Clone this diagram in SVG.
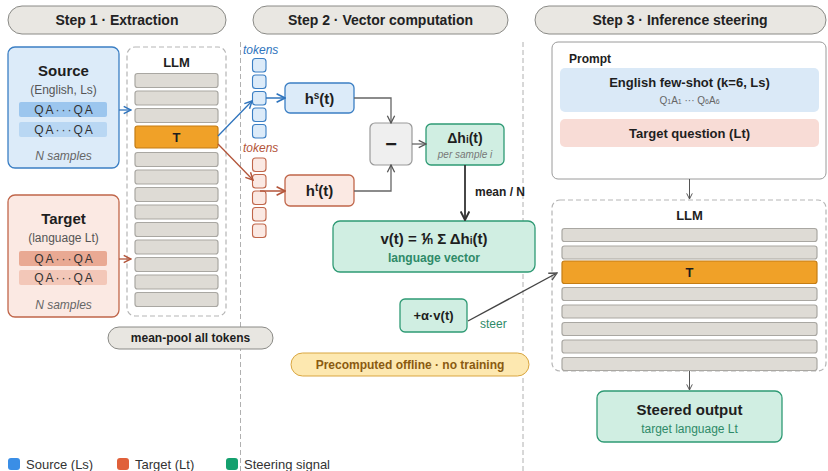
<svg xmlns="http://www.w3.org/2000/svg" width="828" height="471" viewBox="0 0 828 471">
  <defs>
    <style>
      text { font-family: "Liberation Sans", Arial, sans-serif; }
      .hdr { fill: #e9e7e2; stroke: #8a8a86; stroke-width: 1; }
      .hdrt { font-size: 14px; font-weight: bold; fill: #222; text-anchor: middle; }
      .div { stroke: #b0b0b0; stroke-width: 1; stroke-dasharray: 5 3; fill: none; }
      .llmbox { fill: #fff; stroke: #b5b5b5; stroke-width: 1.2; stroke-dasharray: 5 3; }
      .layer { fill: #dedbd5; stroke: #a9a7a2; stroke-width: 1.2; }
      .tl { fill: #f0a128; stroke: #c47d15; stroke-width: 1.2; }
      .b { font-weight: bold; fill: #1e1e1e; text-anchor: middle; }
      .c { text-anchor: middle; }
      .qa { font-size: 12px; fill: #333; text-anchor: middle; letter-spacing: 2px; }
      .ns { font-size: 12px; font-style: italic; fill: #666; text-anchor: middle; }
      .src { fill: #dcebf9; stroke: #3b7fc4; stroke-width: 1.3; }
      .tgt { fill: #fbe9e3; stroke: #c0664a; stroke-width: 1.3; }
      .grn { fill: #d0eee2; stroke: #2e9a74; stroke-width: 1.3; }
      .tokb { fill: #dcebf9; stroke: #3b7fc4; stroke-width: 1.1; }
      .tokr { fill: #fbe9e3; stroke: #c0664a; stroke-width: 1.1; }
      .gl { stroke: #666; stroke-width: 1.3; fill: none; }
    </style>
    <marker id="ab" viewBox="0 0 10 10" refX="9" refY="5" markerWidth="7" markerHeight="7" orient="auto">
      <path d="M1,1 L9,5 L1,9" fill="none" stroke="#2f74bd" stroke-width="1.6"/>
    </marker>
    <marker id="ar" viewBox="0 0 10 10" refX="9" refY="5" markerWidth="7" markerHeight="7" orient="auto">
      <path d="M1,1 L9,5 L1,9" fill="none" stroke="#b3553a" stroke-width="1.6"/>
    </marker>
    <marker id="ag" viewBox="0 0 10 10" refX="9" refY="5" markerWidth="7" markerHeight="7" orient="auto">
      <path d="M1,1 L9,5 L1,9" fill="none" stroke="#555" stroke-width="1.4"/>
    </marker>
    <marker id="ad" viewBox="0 0 10 10" refX="9" refY="5" markerWidth="6" markerHeight="6" orient="auto">
      <path d="M1,1 L9,5 L1,9" fill="none" stroke="#333" stroke-width="1.8"/>
    </marker>
  </defs>

  <rect width="828" height="471" fill="#fff"/>

  <!-- column dividers -->
  <line class="div" x1="240.5" y1="42" x2="240.5" y2="471"/>
  <line class="div" x1="523" y1="42" x2="523" y2="471"/>

  <!-- step headers -->
  <g id="step1">
    <rect class="hdr" x="8" y="6" width="218" height="28" rx="14"/>
    <text class="hdrt" x="117" y="25">Step 1 · Extraction</text>
  </g>
  <g id="step2">
    <rect class="hdr" x="253" y="6" width="255" height="28" rx="14"/>
    <text class="hdrt" x="380.5" y="25">Step 2 · Vector computation</text>
  </g>
  <g id="step3">
    <rect class="hdr" x="535" y="6" width="291" height="28" rx="14"/>
    <text class="hdrt" x="680" y="25">Step 3 · Inference steering</text>
  </g>

  <!-- source samples -->
  <g id="source">
    <rect class="src" x="8" y="47" width="111" height="121" rx="7"/>
    <text class="b" x="63.5" y="76" font-size="15">Source</text>
    <text class="c" x="63.5" y="94" font-size="12" fill="#555">(English, Ls)</text>
    <rect x="19" y="102" width="88" height="15" rx="2" fill="#9cc6ee"/>
    <text class="qa" x="64.5" y="114">QA···QA</text>
    <rect x="19" y="122" width="88" height="15" rx="2" fill="#b9d7f3"/>
    <text class="qa" x="64.5" y="134">QA···QA</text>
    <text class="ns" x="63.5" y="160">N samples</text>
  </g>

  <!-- target samples -->
  <g id="target">
    <rect class="tgt" x="8" y="195" width="111" height="122" rx="7"/>
    <text class="b" x="63.5" y="224" font-size="15">Target</text>
    <text class="c" x="63.5" y="242" font-size="12" fill="#555">(language Lt)</text>
    <rect x="19" y="251" width="88" height="15" rx="2" fill="#e9a993"/>
    <text class="qa" x="64.5" y="263">QA···QA</text>
    <rect x="19" y="270" width="88" height="15" rx="2" fill="#f3c7b8"/>
    <text class="qa" x="64.5" y="282">QA···QA</text>
    <text class="ns" x="63.5" y="309">N samples</text>
  </g>

  <!-- extraction model -->
  <g id="llm1">
    <rect class="llmbox" x="127" y="47" width="99" height="269" rx="8"/>
    <text class="b" x="176.5" y="67" font-size="13">LLM</text>
    <rect class="layer" x="135" y="73.5" width="83" height="14" rx="2.5"/>
    <rect class="layer" x="135" y="91" width="83" height="14" rx="2.5"/>
    <rect class="layer" x="135" y="108.5" width="83" height="14" rx="2.5"/>
    <rect class="tl" x="135" y="126" width="83" height="22" rx="2.5"/>
    <text class="b" x="176.5" y="141.5" font-size="13">T</text>
    <rect class="layer" x="135" y="152.5" width="83" height="14" rx="2.5"/>
    <rect class="layer" x="135" y="170" width="83" height="14" rx="2.5"/>
    <rect class="layer" x="135" y="187.5" width="83" height="14" rx="2.5"/>
    <rect class="layer" x="135" y="205" width="83" height="14" rx="2.5"/>
    <rect class="layer" x="135" y="222.5" width="83" height="14" rx="2.5"/>
    <rect class="layer" x="135" y="240" width="83" height="14" rx="2.5"/>
    <rect class="layer" x="135" y="257.5" width="83" height="14" rx="2.5"/>
    <rect class="layer" x="135" y="275" width="83" height="14" rx="2.5"/>
    <rect class="layer" x="135" y="292.5" width="83" height="14" rx="2.5"/>
  </g>

  <g id="meanpool">
    <rect x="108" y="327" width="165" height="22" rx="11" fill="#e8e6e1" stroke="#8a8a86" stroke-width="1"/>
    <text class="b" x="190.5" y="342" font-size="12">mean-pool all tokens</text>
  </g>

  <!-- token columns -->
  <g id="tokens-src">
    <text x="243" y="54" font-size="12" font-style="italic" fill="#2f74bd">tokens</text>
    <rect class="tokb" x="252.5" y="58.5" width="13.5" height="13.5" rx="3"/>
    <rect class="tokb" x="252.5" y="75" width="13.5" height="13.5" rx="3"/>
    <rect class="tokb" x="252.5" y="91.5" width="13.5" height="13.5" rx="3" stroke="#1f5e9e" stroke-width="1.6"/>
    <rect class="tokb" x="252.5" y="108" width="13.5" height="13.5" rx="3"/>
    <rect class="tokb" x="252.5" y="124.5" width="13.5" height="13.5" rx="3"/>
  </g>
  <g id="tokens-tgt">
    <text x="243" y="152" font-size="12" font-style="italic" fill="#b3553a">tokens</text>
    <rect class="tokr" x="252.5" y="158" width="13.5" height="13.5" rx="3"/>
    <rect class="tokr" x="252.5" y="174.5" width="13.5" height="13.5" rx="3"/>
    <rect class="tokr" x="252.5" y="191" width="13.5" height="13.5" rx="3" stroke="#9a4128" stroke-width="1.6"/>
    <rect class="tokr" x="252.5" y="207.5" width="13.5" height="13.5" rx="3"/>
    <rect class="tokr" x="252.5" y="224" width="13.5" height="13.5" rx="3"/>
  </g>

  <!-- vector computation -->
  <g id="hs">
    <rect class="src" x="285" y="83" width="69" height="30" rx="5"/>
    <text class="b" x="319.5" y="104" font-size="15">h<tspan font-size="10" dy="-5">s</tspan><tspan dy="5">(t)</tspan></text>
  </g>
  <g id="ht">
    <rect class="tgt" x="285" y="175" width="69" height="31" rx="5"/>
    <text class="b" x="319.5" y="196" font-size="15">h<tspan font-size="10" dy="-5">t</tspan><tspan dy="5">(t)</tspan></text>
  </g>
  <g id="minus">
    <rect x="370" y="123" width="42" height="42" rx="5" fill="#efefef" stroke="#999" stroke-width="1.2"/>
    <text class="b" x="391" y="151" font-size="20">−</text>
  </g>
  <g id="delta">
    <rect class="grn" x="426" y="124" width="78" height="41" rx="5"/>
    <text class="b" x="465" y="143" font-size="14">Δh<tspan font-size="10">i</tspan>(t)</text>
    <text class="c" x="465" y="158" font-size="10" font-style="italic" fill="#777">per sample i</text>
  </g>
  <g id="vt">
    <rect class="grn" x="333" y="221" width="202" height="51" rx="7"/>
    <text class="b" x="434" y="244" font-size="15">v(t) = ⅟<tspan font-size="10">n</tspan> Σ Δh<tspan font-size="10">i</tspan>(t)</text>
    <text class="c" x="434" y="262" font-size="12" font-weight="bold" fill="#2e8a68">language vector</text>
  </g>
  <g id="alpha">
    <rect class="grn" x="400" y="299" width="67" height="33" rx="5"/>
    <text class="b" x="433.5" y="320" font-size="13">+α·v(t)</text>
  </g>
  <text x="480" y="328" font-size="12" fill="#2e8a68">steer</text>

  <g id="offline">
    <rect x="291" y="353" width="238" height="23" rx="11.5" fill="#fde8b0" stroke="#d9a640" stroke-width="1"/>
    <text class="c" x="410" y="369" font-size="12" font-weight="bold" fill="#8a5a10">Precomputed offline · no training</text>
  </g>

  <!-- inference steering -->
  <g id="prompt">
    <rect x="552" y="42" width="274" height="137" rx="6" fill="#fff" stroke="#9a9a9a" stroke-width="1"/>
    <text x="569" y="63" font-size="12" font-weight="bold" fill="#1e1e1e">Prompt</text>
    <rect x="560" y="68" width="259" height="44" rx="5" fill="#dae9f7"/>
    <text class="b" x="689.5" y="87" font-size="13">English few-shot (k=6, Ls)</text>
    <text class="c" x="689.5" y="104" font-size="10" fill="#666">Q<tspan font-size="7">1</tspan>A<tspan font-size="7">1</tspan> ··· Q<tspan font-size="7">6</tspan>A<tspan font-size="7">6</tspan></text>
    <rect x="560" y="119" width="259" height="28" rx="5" fill="#f8dcd6"/>
    <text class="b" x="689.5" y="138" font-size="13">Target question (Lt)</text>
  </g>

  <g id="llm2">
    <rect class="llmbox" x="552" y="200" width="274" height="171" rx="8"/>
    <text class="b" x="689.5" y="220" font-size="13">LLM</text>
    <rect class="layer" x="562" y="228.5" width="255" height="13" rx="2.5"/>
    <rect class="layer" x="562" y="246" width="255" height="13" rx="2.5"/>
    <rect class="tl" x="562" y="261" width="255" height="22.5" rx="2.5"/>
    <text class="b" x="689.5" y="277" font-size="13">T</text>
    <rect class="layer" x="562" y="287.5" width="255" height="13" rx="2.5"/>
    <rect class="layer" x="562" y="305" width="255" height="13" rx="2.5"/>
    <rect class="layer" x="562" y="322.5" width="255" height="13" rx="2.5"/>
    <rect class="layer" x="562" y="340" width="255" height="13" rx="2.5"/>
    <rect class="layer" x="562" y="357.5" width="255" height="13" rx="2.5"/>
  </g>

  <g id="output">
    <rect class="grn" x="597" y="391" width="185" height="51" rx="7"/>
    <text class="b" x="689.5" y="415" font-size="15">Steered output</text>
    <text class="c" x="689.5" y="433" font-size="12" fill="#2e8a68">target language Lt</text>
  </g>

  <!-- connectors -->
  <g id="connectors">
    <line x1="119" y1="110" x2="131" y2="110" stroke="#2f74bd" stroke-width="1.3" marker-end="url(#ab)"/>
    <line x1="119" y1="259" x2="131" y2="259" stroke="#b3553a" stroke-width="1.3" marker-end="url(#ar)"/>
    <line x1="218" y1="136" x2="252" y2="101" stroke="#2f74bd" stroke-width="1.3" marker-end="url(#ab)"/>
    <line x1="218" y1="144" x2="253" y2="180" stroke="#b3553a" stroke-width="1.3" marker-end="url(#ar)"/>
    <line x1="266" y1="98" x2="285" y2="98" stroke="#2f74bd" stroke-width="1.5" marker-end="url(#ab)"/>
    <line x1="260" y1="191" x2="285" y2="191" stroke="#b3553a" stroke-width="1.5" marker-end="url(#ar)"/>
    <polyline class="gl" points="354,98 391,98 391,123" marker-end="url(#ag)"/>
    <polyline class="gl" points="354,191 391,191 391,165" marker-end="url(#ag)"/>
    <line class="gl" x1="412" y1="144" x2="426" y2="144" marker-end="url(#ag)"/>
    <line x1="465" y1="165" x2="465" y2="220" stroke="#333" stroke-width="1.8" marker-end="url(#ad)"/>
    <text x="475" y="196" font-size="12" font-weight="bold" fill="#222">mean / N</text>
    <line x1="468" y1="321" x2="557" y2="273" stroke="#444" stroke-width="1.4" marker-end="url(#ag)"/>
    <line x1="689.5" y1="179" x2="689.5" y2="199" stroke="#555" stroke-width="1" marker-end="url(#ag)"/>
    <line x1="689.5" y1="371" x2="689.5" y2="390" stroke="#555" stroke-width="1" marker-end="url(#ag)"/>
  </g>

  <!-- legend -->
  <g id="legend">
    <rect x="8" y="458" width="12" height="12" rx="3" fill="#3a8ee6"/>
    <text x="26" y="469" font-size="13" fill="#333">Source (Ls)</text>
    <rect x="117" y="458" width="12" height="12" rx="3" fill="#e0603a"/>
    <text x="135" y="469" font-size="13" fill="#333">Target (Lt)</text>
    <rect x="226" y="458" width="12" height="12" rx="3" fill="#14a06e"/>
    <text x="244" y="469" font-size="13" fill="#333">Steering signal</text>
  </g>
</svg>
